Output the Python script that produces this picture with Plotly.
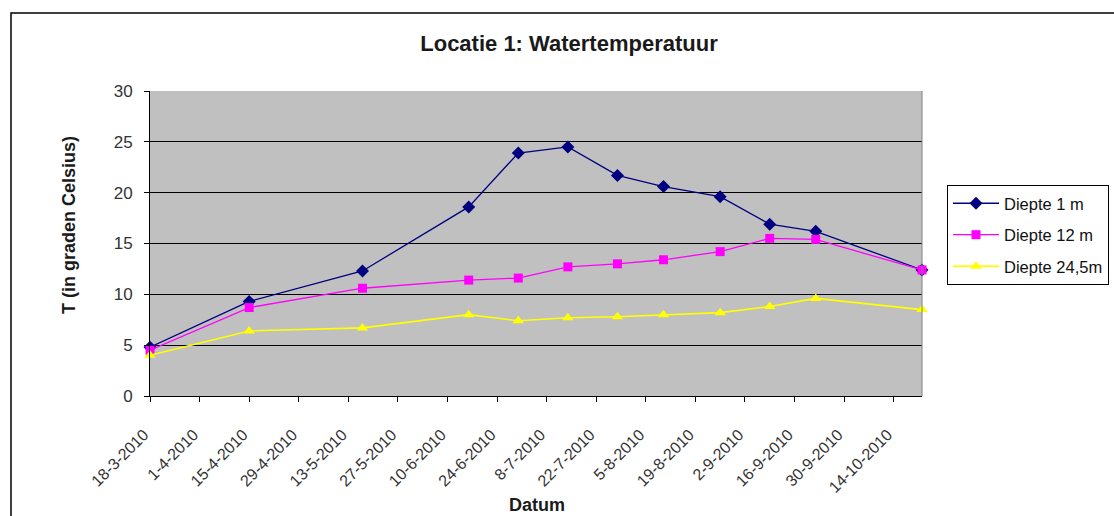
import plotly.graph_objects as go

dates = ["2010-03-18", "2010-04-15", "2010-05-17", "2010-06-16", "2010-06-30",
         "2010-07-14", "2010-07-28", "2010-08-10", "2010-08-26", "2010-09-09",
         "2010-09-22", "2010-10-22"]
diepte_1m = [4.8, 9.3, 12.3, 18.6, 23.9, 24.5, 21.7, 20.6, 19.6, 16.9, 16.2, 12.4]
diepte_12m = [4.5, 8.7, 10.6, 11.4, 11.6, 12.7, 13.0, 13.4, 14.2, 15.5, 15.4, 12.4]
diepte_24m = [4.0, 6.4, 6.7, 8.0, 7.4, 7.7, 7.8, 8.0, 8.2, 8.8, 9.6, 8.5]

tick_dates = ["2010-03-18", "2010-04-01", "2010-04-15", "2010-04-29", "2010-05-13",
              "2010-05-27", "2010-06-10", "2010-06-24", "2010-07-08", "2010-07-22",
              "2010-08-05", "2010-08-19", "2010-09-02", "2010-09-16", "2010-09-30",
              "2010-10-14"]
tick_labels = ["18-3-2010", "1-4-2010", "15-4-2010", "29-4-2010", "13-5-2010",
               "27-5-2010", "10-6-2010", "24-6-2010", "8-7-2010", "22-7-2010",
               "5-8-2010", "19-8-2010", "2-9-2010", "16-9-2010", "30-9-2010",
               "14-10-2010"]

FONT = "Arial, Liberation Sans, sans-serif"

# body margin is removed below, so figure pixels == window pixels
W, H = 1114, 516
L, T = 150, 91
PW, PH = 772, 305
R = W - L - PW
B = H - T - PH


def px_x(x):
    return (x - 150) / PW


def px_y(y):
    return (396 - y) / PH


fig = go.Figure()
fig.add_trace(go.Scatter(x=dates, y=diepte_1m, name="Diepte 1 m", mode="lines+markers",
                         legendgroup="a",
                         line=dict(color="#000080", width=1.3),
                         marker=dict(symbol="diamond", size=10, color="#000080"),
                         cliponaxis=False))
fig.add_trace(go.Scatter(x=dates, y=diepte_12m, name="Diepte 12 m", mode="lines+markers",
                         legendgroup="b",
                         line=dict(color="#FF00FF", width=1.3),
                         marker=dict(symbol="square", size=9, color="#FF00FF"),
                         cliponaxis=False))
fig.add_trace(go.Scatter(x=dates, y=diepte_24m, name="Diepte 24,5m", mode="lines+markers",
                         legendgroup="c",
                         line=dict(color="#FFFF00", width=1.6),
                         marker=dict(symbol="triangle-up", size=10, color="#FFFF00"),
                         cliponaxis=False))

fig.update_layout(
    width=W, height=H,
    margin=dict(l=L, r=R, t=T, b=B, autoexpand=False),
    paper_bgcolor="white",
    plot_bgcolor="#C0C0C0",
    font=dict(family=FONT, size=16, color="#222"),
    title=dict(text="<b>Locatie 1: Watertemperatuur</b>", xref="paper", x=px_x(569),
               xanchor="center", yref="container", y=1 - 43 / H,
               yanchor="middle",
               font=dict(family=FONT, size=22, color="#1a1a1a")),
    showlegend=True,
    legend=dict(x=px_x(947), y=px_y(185), xanchor="left", yanchor="top",
                bordercolor="black", borderwidth=1, bgcolor="white",
                font=dict(family=FONT, size=16.5, color="#111"),
                tracegroupgap=7, itemwidth=46),
    xaxis=dict(type="date", range=["2010-03-18", "2010-10-22"],
               tickvals=tick_dates, ticktext=tick_labels, tickangle=-45,
               showgrid=False, zeroline=False, showline=True, linecolor="black",
               linewidth=1, ticks="outside", ticklen=5, tickcolor="black",
               ticklabelstandoff=17, ticklabelshift=-6,
               tickfont=dict(family=FONT, size=16, color="#333")),
    yaxis=dict(range=[0, 30], dtick=5, tick0=0, showgrid=True, gridcolor="black",
               gridwidth=1, zeroline=False, showline=True, linecolor="black",
               linewidth=1, ticks="outside", ticklen=5, tickcolor="black",
               ticklabelstandoff=8,
               tickfont=dict(family=FONT, size=17, color="#333")),
    annotations=[
        dict(text="<b>T (in graden Celsius)</b>", xref="paper", yref="paper",
             x=px_x(69), y=px_y(225), textangle=-90, showarrow=False,
             xanchor="center", yanchor="middle",
             font=dict(family=FONT, size=18, color="#1a1a1a")),
        dict(text="<b>Datum</b>", xref="paper", yref="paper",
             x=px_x(537), y=px_y(505), showarrow=False,
             xanchor="center", yanchor="middle",
             font=dict(family=FONT, size=18, color="#1a1a1a")),
    ],
    shapes=[
        dict(type="rect", xref="paper", yref="paper",
             x0=px_x(11), x1=1.4, y0=-0.6, y1=px_y(13),
             line=dict(color="black", width=1.5), fillcolor="rgba(0,0,0,0)",
             layer="below"),
        dict(type="line", xref="paper", yref="paper", x0=1, x1=1, y0=0, y1=1,
             line=dict(color="#808080", width=1)),
    ],
)

fig.write_html("out.html",
               config={"displayModeBar": False},
               post_script="document.body.style.margin='0';"
                           "document.body.style.overflow='hidden';")
